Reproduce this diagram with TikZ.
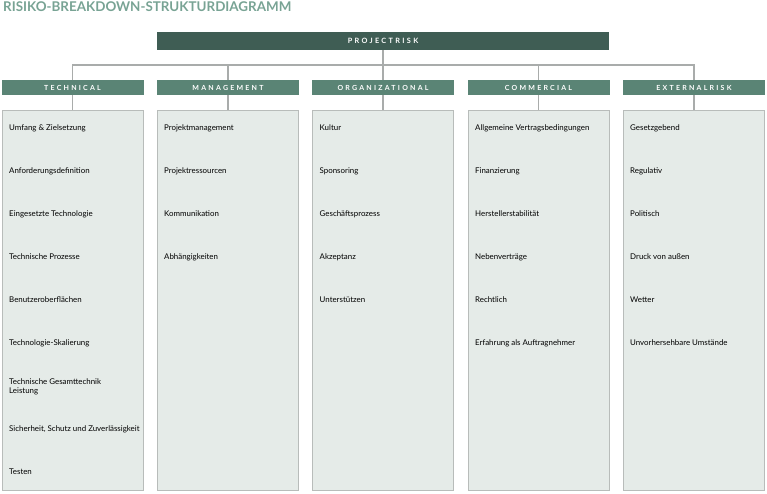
\documentclass[tikz,border=0pt]{standalone}
\usepackage{fontspec}
\usetikzlibrary{shadows}
\setmainfont{Lato}
\newfontfamily\spacedfont[LetterSpace=32]{Lato Bold}
\definecolor{titlegreen}{HTML}{78A394}
\definecolor{topgreen}{HTML}{3F5D54}
\definecolor{headgreen}{HTML}{5A8475}
\definecolor{colfill}{HTML}{E5EBE8}
\definecolor{colline}{HTML}{B8BCBA}
\definecolor{linkgrey}{HTML}{A9ACAB}
\begin{document}
\begin{tikzpicture}[x=1pt,y=-1pt,
  topbox/.style={fill=topgreen,text=white,minimum width=452pt,minimum height=18pt,inner sep=0pt,font=\spacedfont\fontsize{7.3}{8}\selectfont},
  headbox/.style={fill=headgreen,text=white,minimum width=142pt,minimum height=15pt,inner sep=0pt,font=\spacedfont\fontsize{7}{8}\selectfont},
  colbox/.style={fill=colfill,draw=colline,line width=1pt,minimum width=141pt,minimum height=380pt,inner sep=0pt,
    drop shadow={shadow xshift=0.8pt,shadow yshift=-0.8pt,fill=black!40,opacity=0.8}},
  item/.style={anchor=west,inner sep=0pt,align=left,font=\fontsize{7.9}{9}\selectfont,text=black},
  link/.style={draw=linkgrey,line width=1.4pt}]
\useasboundingbox (0,0) rectangle (767,494);
\node[anchor=north west,inner sep=0pt,text=titlegreen,font=\bfseries\fontsize{13.4}{15}\selectfont] (title) at (3,2) {RISIKO-BREAKDOWN-STRUKTURDIAGRAMM};
% root
\node[topbox] (root) at (383,41) {PROJECTRISK};
\coordinate (bus) at (383,65);
% headers
\node[headbox] (tech) at (72.5,87.5) {TECHNICAL};
\node[headbox] (mgmt) at (228,87.5) {MANAGEMENT};
\node[headbox] (orga) at (383,87.5) {ORGANIZATIONAL};
\node[headbox] (comm) at (538.5,87.5) {COMMERCIAL};
\node[headbox] (extr) at (694,87.5) {EXTERNALRISK};
% connectors
\draw[link] (root.south) -- (bus);
\draw[link] (tech.north) |- (bus) -| (extr.north);
\draw[link] (mgmt.north) -- (mgmt.north |- bus);
\draw[link] (orga.north) -- (bus);
\draw[link] (comm.north) -- (comm.north |- bus);
% columns
\node[colbox] (techcol) at (72.5,300.5) {};
\node[colbox] (mgmtcol) at (228,300.5) {};
\node[colbox] (orgacol) at (383,300.5) {};
\node[colbox] (commcol) at (538.5,300.5) {};
\node[colbox] (extrcol) at (694,300.5) {};
\draw[link] (tech.south) -- (techcol.north);
\draw[link] (mgmt.south) -- (mgmtcol.north);
\draw[link] (orga.south) -- (orgacol.north);
\draw[link] (comm.south) -- (commcol.north);
\draw[link] (extr.south) -- (extrcol.north);
% technical
\node[item] (t1) at (9,128) {Umfang \& Zielsetzung};
\node[item] (t2) at (9,171) {Anforderungsdefinition};
\node[item] (t3) at (9,214) {Eingesetzte Technologie};
\node[item] (t4) at (9,257) {Technische Prozesse};
\node[item] (t5) at (9,300) {Benutzeroberflächen};
\node[item] (t6) at (9,343) {Technologie-Skalierung};
\node[item] (t7) at (9,386.5) {Technische Gesamttechnik\\Leistung};
\node[item] (t8) at (9,429) {Sicherheit, Schutz und Zuverlässigkeit};
\node[item] (t9) at (9,472) {Testen};
% management
\node[item] (m1) at (164,128) {Projektmanagement};
\node[item] (m2) at (164,171) {Projektressourcen};
\node[item] (m3) at (164,214) {Kommunikation};
\node[item] (m4) at (164,257) {Abhängigkeiten};
% organizational
\node[item] (o1) at (319.5,128) {Kultur};
\node[item] (o2) at (319.5,171) {Sponsoring};
\node[item] (o3) at (319.5,214) {Geschäftsprozess};
\node[item] (o4) at (319.5,257) {Akzeptanz};
\node[item] (o5) at (319.5,300) {Unterstützen};
% commercial
\node[item] (c1) at (475,128) {Allgemeine Vertragsbedingungen};
\node[item] (c2) at (475,171) {Finanzierung};
\node[item] (c3) at (475,214) {Herstellerstabilität};
\node[item] (c4) at (475,257) {Nebenverträge};
\node[item] (c5) at (475,300) {Rechtlich};
\node[item] (c6) at (475,343) {Erfahrung als Auftragnehmer};
% external
\node[item] (e1) at (630,128) {Gesetzgebend};
\node[item] (e2) at (630,171) {Regulativ};
\node[item] (e3) at (630,214) {Politisch};
\node[item] (e4) at (630,257) {Druck von außen};
\node[item] (e5) at (630,300) {Wetter};
\node[item] (e6) at (630,343) {Unvorhersehbare Umstände};
\end{tikzpicture}
\end{document}
